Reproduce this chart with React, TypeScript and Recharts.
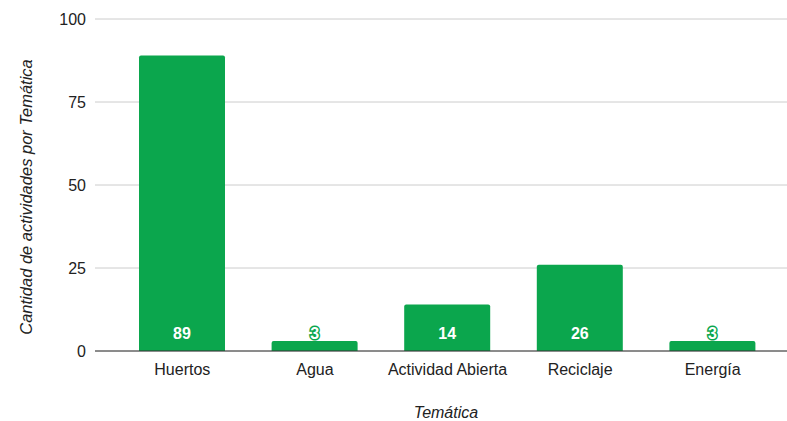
import { BarChart, Bar, XAxis, YAxis, CartesianGrid, LabelList } from 'recharts';

const categories = ['Huertos', 'Agua', 'Actividad Abierta', 'Reciclaje', 'Energía'];
const counts = [89, 3, 14, 26, 3];
const yTicks = [0, 25, 50, 75, 100];

const data = categories.map((tematica, i) => ({ tematica, count: counts[i] }));

const GREEN = '#0ba64d';
const FONT = '"Liberation Sans", Arial, sans-serif';

// value sits at the bottom of each bar, white with a green halo
const BottomLabel = (props: any) => {
  const { x, y, width, height, value } = props;
  const base = y + height;
  return (
    <text
      x={x + width / 2}
      y={base - 12}
      textAnchor="middle"
      fill="#fff"
      stroke={GREEN}
      strokeWidth={3}
      paintOrder="stroke"
      fontFamily={FONT}
      fontWeight="bold"
      fontSize={16}
    >
      {value}
    </text>
  );
};

const YTitle = (props: any) => {
  const { viewBox } = props;
  const cy = viewBox.y + viewBox.height / 2 + 12;
  return (
    <text
      x={26}
      y={cy}
      transform={`rotate(-90, 26, ${cy})`}
      textAnchor="middle"
      dominantBaseline="central"
      fill="#222"
      fontFamily={FONT}
      fontStyle="italic"
      fontSize={16.5}
    >
      Cantidad de actividades por Temática
    </text>
  );
};

const XTitle = (props: any) => {
  const { viewBox } = props;
  return (
    <text
      x={viewBox.x + viewBox.width / 2 + 5}
      y={418}
      textAnchor="middle"
      fill="#222"
      fontFamily={FONT}
      fontStyle="italic"
      fontSize={16}
    >
      Temática
    </text>
  );
};

const App = () => {
  return (
    <div style={{ position: 'absolute', left: 0, top: 0, background: '#fff', width: 787, height: 421 }}>
      <BarChart width={787} height={421} data={data} margin={{ top: 19, right: 0, bottom: 0, left: 0 }}>
        <CartesianGrid vertical={false} stroke="#ccc" />
        <XAxis
          dataKey="tematica"
          height={70}
          padding={{ left: 21, right: 8 }}
          tickLine={false}
          axisLine={{ stroke: '#333' }}
          tick={{ fill: '#222', fontSize: 16, fontFamily: FONT }}
          tickMargin={7}
          label={<XTitle />}
        />
        <YAxis
          width={95}
          domain={[0, 100]}
          ticks={yTicks}
          axisLine={false}
          tickLine={false}
          tickSize={0}
          tickMargin={9}
          tick={{ fill: '#222', fontSize: 16, fontFamily: FONT }}
          label={<YTitle />}
        />
        <Bar dataKey="count" fill={GREEN} barSize={86} radius={[2, 2, 0, 0]} isAnimationActive={false}>
          <LabelList dataKey="count" content={<BottomLabel />} />
        </Bar>
      </BarChart>
    </div>
  );
};

export default App;
